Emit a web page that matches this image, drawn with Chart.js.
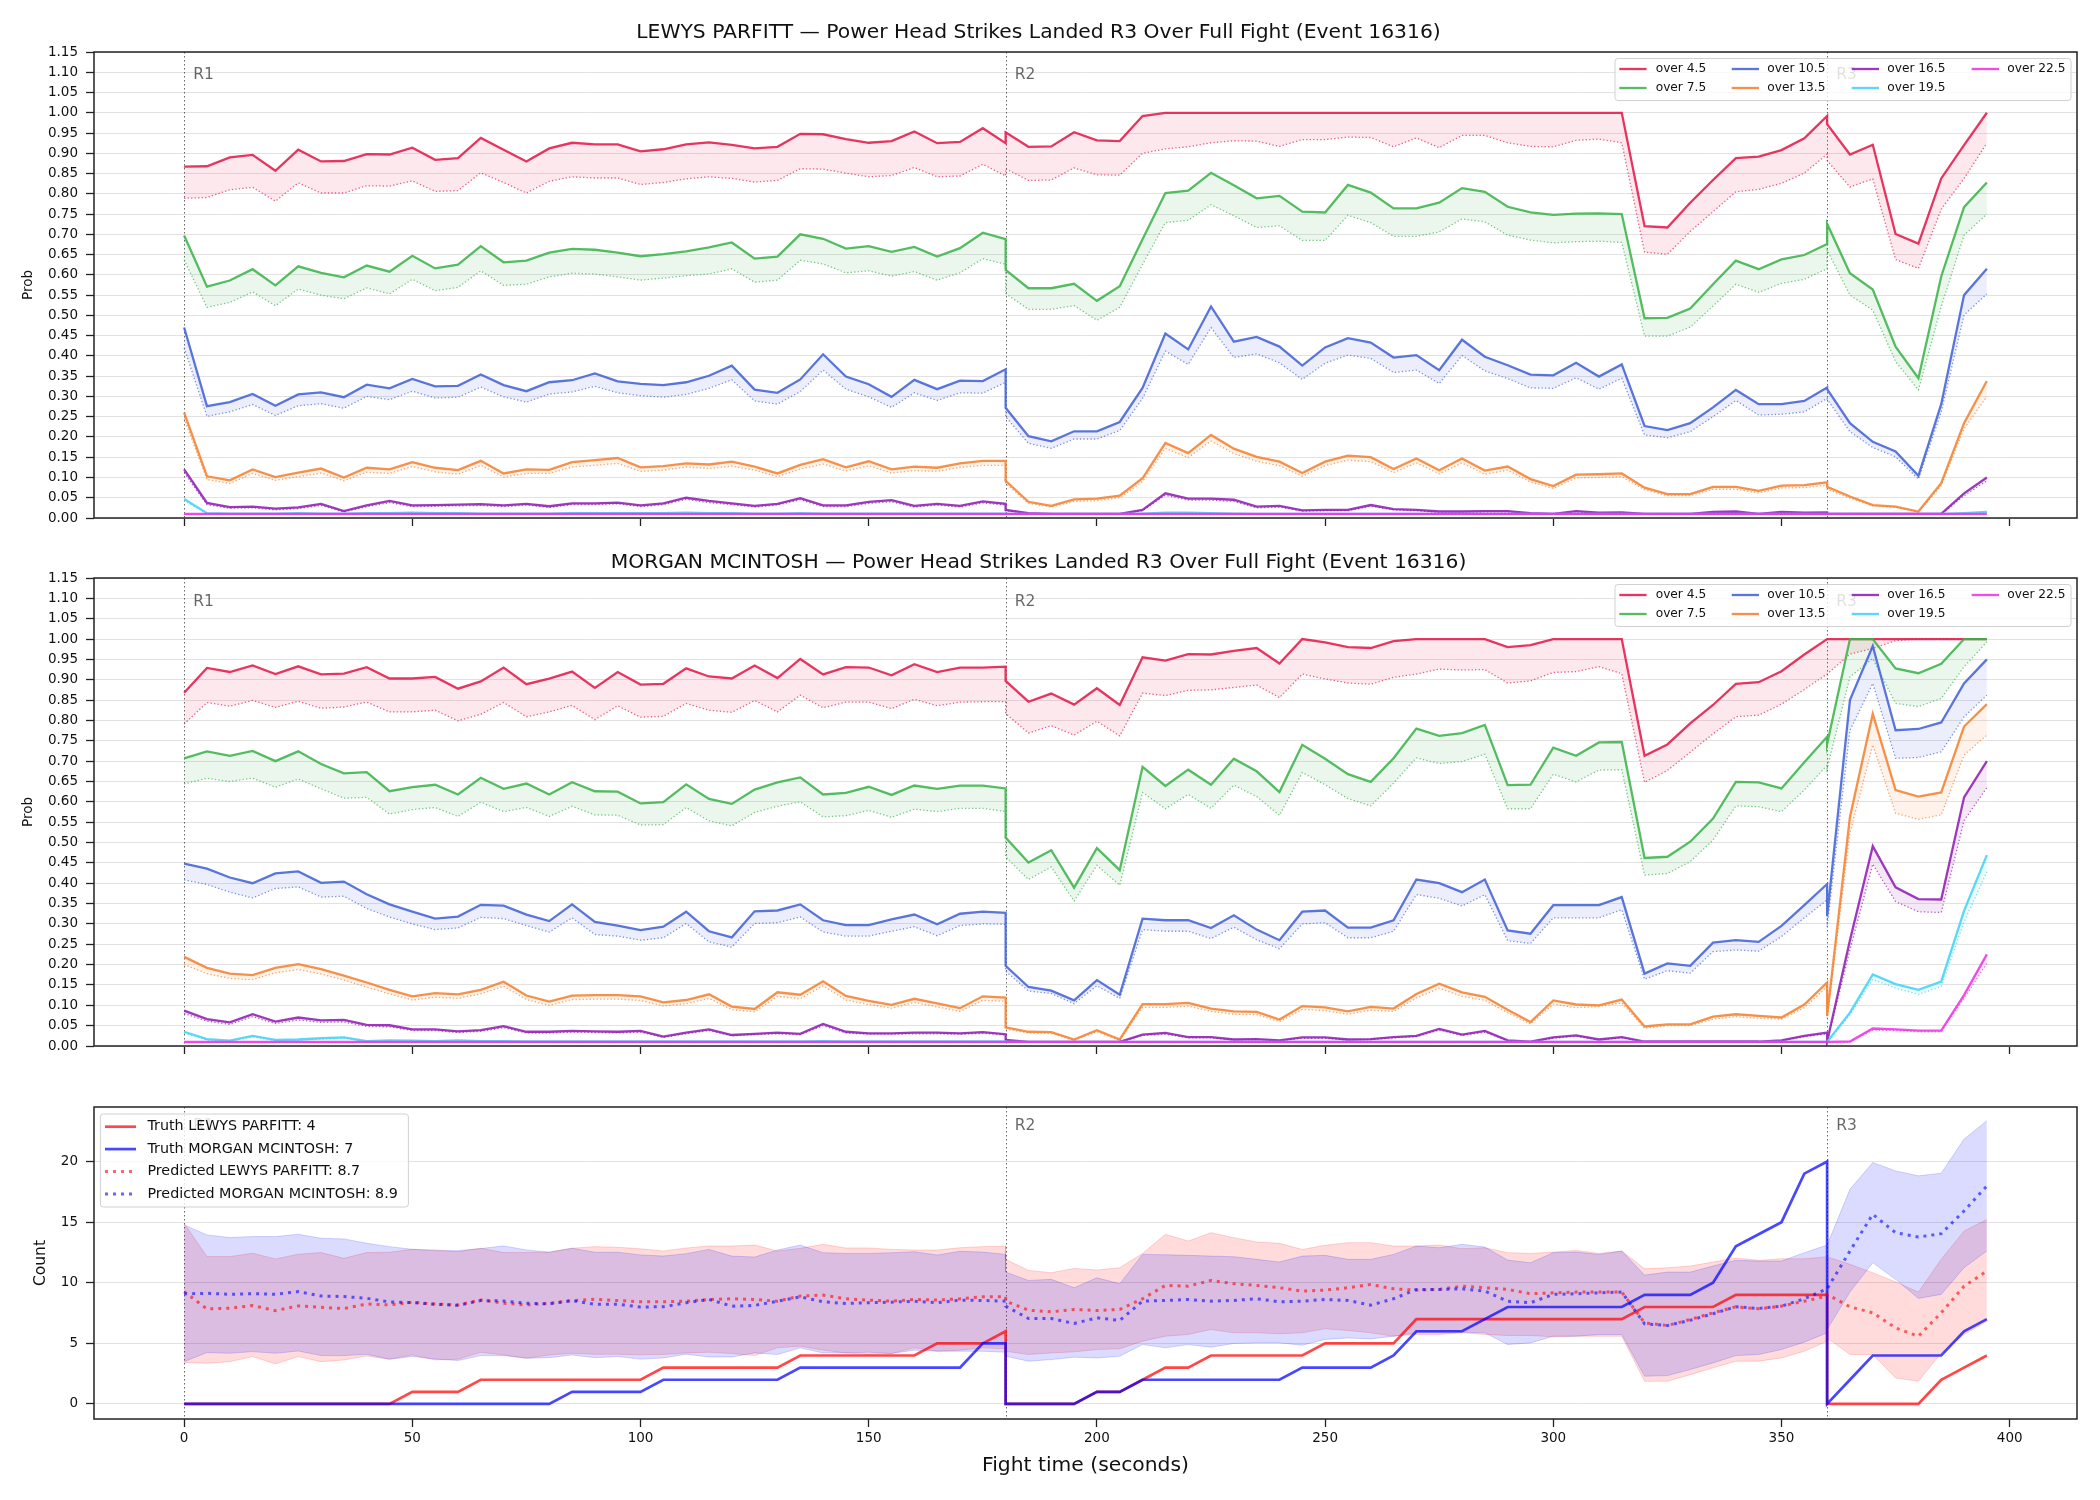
<!DOCTYPE html>
<html><head><meta charset="utf-8">
<script src="https://cdn.jsdelivr.net/npm/chart.js@4.4.1/dist/chart.umd.min.js"></script>
<style>
html,body{margin:0;padding:0;background:#fff;}
#wrap{position:relative;width:2100px;height:1500px;background:#fff;}
#wrap canvas{position:absolute;left:0;}
</style></head><body>
<div id="wrap">
<canvas id="c1" width="2100" height="540" style="top:0px;width:2100px;height:540px"></canvas>
<canvas id="c2" width="2100" height="530" style="top:540px;width:2100px;height:530px"></canvas>
<canvas id="c3" width="2100" height="430" style="top:1070px;width:2100px;height:430px"></canvas>
</div>
<script>
// ---------------- DATA ----------------
const T = [0,5,10,15,20,25,30,35,40,45,50,55,60,65,70,75,80,85,90,95,100,105,110,115,120,125,130,135,140,145,150,155,160,165,170,175,180,
 180,185,190,195,200,205,210,215,220,225,230,235,240,245,250,255,260,265,270,275,280,285,290,295,300,305,310,315,320,325,330,335,340,345,350,355,360,
 360,365,370,375,380,385,390,395];

const TITLE_TOP = 'LEWYS PARFITT — Power Head Strikes Landed R3 Over Full Fight (Event 16316)';
const TITLE_MID = 'MORGAN MCINTOSH — Power Head Strikes Landed R3 Over Full Fight (Event 16316)';
const SERIES_LABELS = ['over 4.5','over 7.5','over 10.5','over 13.5','over 16.5','over 19.5','over 22.5'];
const ROUND_T = [0, 180, 360];
const ROUND_LBL = ['R1', 'R2', 'R3'];
const BOTTOM_LEGEND = ['Truth LEWYS PARFITT: 4','Truth MORGAN MCINTOSH: 7','Predicted LEWYS PARFITT: 8.7','Predicted MORGAN MCINTOSH: 8.9'];

// LEWYS PARFITT probabilities (solid) and lower (dotted)
const L_o45 = [0.867,0.868,0.890,0.896,0.857,0.909,0.880,0.881,0.898,0.897,0.914,0.884,0.888,0.938,0.909,0.880,0.912,0.926,0.922,0.922,0.905,0.910,0.922,0.927,0.921,0.912,0.916,0.948,0.947,0.935,0.926,0.930,0.954,0.925,0.928,0.962,0.925,
 0.952,0.916,0.917,0.952,0.932,0.930,0.992,1.000,1.000,1.000,1.000,1.000,1.000,1.000,1.000,1.000,1.000,1.000,1.000,1.000,1.000,1.000,1.000,1.000,1.000,1.000,1.000,1.000,0.720,0.717,0.778,0.834,0.888,0.892,0.908,0.937,0.992,
 0.972,0.897,0.921,0.701,0.677,0.838,0.920,1.000];
const L_o45d = [0.789,0.791,0.810,0.816,0.782,0.827,0.802,0.802,0.820,0.819,0.832,0.806,0.808,0.852,0.828,0.802,0.831,0.842,0.839,0.839,0.823,0.828,0.837,0.842,0.838,0.829,0.833,0.862,0.861,0.851,0.842,0.845,0.865,0.842,0.844,0.873,0.844,
 0.862,0.833,0.834,0.864,0.847,0.846,0.900,0.911,0.916,0.926,0.931,0.930,0.917,0.934,0.934,0.940,0.939,0.916,0.938,0.914,0.944,0.944,0.926,0.917,0.916,0.932,0.935,0.926,0.656,0.651,0.707,0.756,0.805,0.811,0.826,0.851,0.898,
 0.882,0.817,0.837,0.638,0.616,0.762,0.838,0.925];
const L_o75 = [0.697,0.571,0.586,0.614,0.574,0.621,0.605,0.594,0.623,0.608,0.647,0.616,0.625,0.671,0.631,0.635,0.655,0.664,0.662,0.655,0.646,0.651,0.658,0.668,0.680,0.640,0.645,0.700,0.689,0.665,0.671,0.657,0.669,0.645,0.666,0.704,0.688,
 0.612,0.567,0.567,0.578,0.536,0.572,0.688,0.802,0.808,0.852,0.821,0.789,0.795,0.756,0.754,0.822,0.803,0.764,0.764,0.778,0.814,0.805,0.768,0.754,0.748,0.751,0.752,0.750,0.493,0.494,0.517,0.577,0.635,0.614,0.638,0.649,0.676,
 0.726,0.604,0.564,0.423,0.345,0.596,0.767,0.828];
const L_o75d = [0.637,0.520,0.532,0.558,0.524,0.565,0.550,0.541,0.568,0.553,0.589,0.561,0.569,0.610,0.574,0.577,0.595,0.604,0.602,0.595,0.587,0.592,0.598,0.602,0.615,0.582,0.587,0.636,0.627,0.605,0.610,0.597,0.608,0.587,0.605,0.640,0.626,
 0.554,0.515,0.515,0.524,0.488,0.520,0.626,0.729,0.735,0.773,0.746,0.717,0.721,0.685,0.685,0.747,0.729,0.695,0.695,0.706,0.738,0.731,0.698,0.686,0.679,0.682,0.683,0.680,0.449,0.449,0.471,0.523,0.577,0.557,0.579,0.589,0.615,
 0.661,0.550,0.513,0.386,0.316,0.522,0.698,0.750];
const L_o105 = [0.470,0.276,0.286,0.306,0.277,0.305,0.310,0.298,0.329,0.320,0.343,0.325,0.326,0.354,0.328,0.313,0.335,0.340,0.357,0.337,0.331,0.328,0.335,0.351,0.376,0.317,0.309,0.342,0.404,0.349,0.330,0.299,0.341,0.318,0.339,0.338,0.367,
 0.272,0.202,0.189,0.214,0.214,0.237,0.321,0.455,0.416,0.522,0.435,0.447,0.423,0.376,0.421,0.444,0.433,0.396,0.402,0.365,0.440,0.398,0.377,0.354,0.352,0.383,0.349,0.379,0.227,0.217,0.234,0.273,0.316,0.281,0.281,0.289,0.322,
 0.318,0.234,0.188,0.164,0.104,0.281,0.550,0.615];
const L_o105d = [0.420,0.251,0.262,0.280,0.253,0.277,0.282,0.271,0.300,0.292,0.313,0.296,0.298,0.323,0.299,0.286,0.306,0.311,0.325,0.309,0.302,0.298,0.305,0.320,0.341,0.289,0.281,0.312,0.365,0.318,0.299,0.273,0.309,0.290,0.309,0.308,0.335,
 0.250,0.184,0.172,0.195,0.195,0.216,0.295,0.412,0.379,0.470,0.396,0.405,0.383,0.342,0.382,0.402,0.394,0.359,0.365,0.332,0.401,0.363,0.344,0.321,0.320,0.346,0.318,0.345,0.205,0.198,0.213,0.250,0.290,0.254,0.256,0.262,0.295,
 0.293,0.213,0.174,0.151,0.096,0.262,0.501,0.553];
const L_o135 = [0.260,0.103,0.093,0.120,0.101,0.112,0.122,0.100,0.124,0.120,0.138,0.124,0.118,0.141,0.110,0.120,0.119,0.138,0.143,0.148,0.125,0.128,0.135,0.132,0.139,0.127,0.110,0.131,0.145,0.125,0.140,0.120,0.127,0.124,0.135,0.141,0.141,
 0.092,0.040,0.030,0.046,0.048,0.055,0.098,0.185,0.160,0.205,0.171,0.151,0.139,0.111,0.139,0.154,0.150,0.121,0.147,0.118,0.147,0.117,0.127,0.096,0.079,0.107,0.108,0.110,0.075,0.059,0.059,0.077,0.077,0.067,0.080,0.081,0.088,
 0.077,0.053,0.032,0.028,0.016,0.086,0.234,0.338];
const L_o135d = [0.245,0.095,0.085,0.110,0.093,0.102,0.111,0.092,0.113,0.110,0.127,0.114,0.108,0.130,0.101,0.110,0.110,0.126,0.130,0.135,0.115,0.118,0.126,0.122,0.128,0.118,0.102,0.121,0.133,0.116,0.129,0.111,0.117,0.115,0.125,0.130,0.130,
 0.086,0.036,0.027,0.041,0.043,0.050,0.090,0.172,0.149,0.190,0.159,0.140,0.129,0.103,0.129,0.143,0.139,0.112,0.136,0.109,0.136,0.108,0.118,0.089,0.073,0.099,0.100,0.102,0.070,0.055,0.055,0.071,0.071,0.062,0.074,0.075,0.081,
 0.071,0.049,0.030,0.026,0.015,0.080,0.220,0.300];
const L_o165 = [0.120,0.037,0.027,0.028,0.023,0.026,0.035,0.017,0.031,0.042,0.031,0.032,0.033,0.034,0.031,0.035,0.029,0.036,0.036,0.038,0.031,0.036,0.050,0.042,0.036,0.030,0.035,0.049,0.031,0.031,0.040,0.044,0.030,0.035,0.030,0.041,0.035,
 0.020,0.012,0.010,0.010,0.010,0.010,0.020,0.061,0.048,0.048,0.045,0.028,0.030,0.019,0.020,0.020,0.032,0.022,0.020,0.016,0.016,0.017,0.017,0.012,0.010,0.017,0.013,0.014,0.010,0.010,0.010,0.015,0.016,0.010,0.015,0.013,0.014,
 0.010,0.010,0.010,0.010,0.010,0.010,0.061,0.100];
const L_o165d = [0.112,0.033,0.024,0.025,0.020,0.023,0.031,0.015,0.028,0.038,0.028,0.029,0.030,0.031,0.028,0.032,0.026,0.033,0.033,0.035,0.028,0.033,0.046,0.038,0.033,0.027,0.032,0.045,0.028,0.028,0.036,0.040,0.027,0.032,0.027,0.037,0.032,
 0.018,0.011,0.009,0.009,0.009,0.009,0.018,0.056,0.044,0.044,0.041,0.025,0.027,0.017,0.018,0.018,0.029,0.020,0.018,0.014,0.014,0.015,0.015,0.011,0.009,0.015,0.012,0.013,0.009,0.009,0.009,0.013,0.014,0.009,0.013,0.012,0.013,
 0.009,0.009,0.009,0.009,0.009,0.009,0.055,0.092];
const L_o195 = [0.047,0.012,0.011,0.011,0.011,0.012,0.011,0.011,0.012,0.012,0.013,0.012,0.012,0.011,0.011,0.011,0.011,0.012,0.012,0.012,0.012,0.012,0.013,0.012,0.012,0.011,0.011,0.012,0.011,0.011,0.011,0.011,0.011,0.011,0.011,0.011,0.011,
 0.010,0.010,0.010,0.010,0.010,0.010,0.011,0.013,0.013,0.012,0.011,0.010,0.010,0.010,0.010,0.010,0.010,0.010,0.010,0.010,0.010,0.010,0.010,0.010,0.010,0.010,0.010,0.010,0.010,0.010,0.010,0.010,0.010,0.010,0.010,0.010,0.010,
 0.010,0.010,0.010,0.010,0.010,0.010,0.012,0.015];
const L_o195d = [0.043,0.011,0.010,0.010,0.010,0.011,0.010,0.010,0.011,0.011,0.012,0.011,0.011,0.010,0.010,0.010,0.010,0.011,0.011,0.011,0.011,0.011,0.012,0.011,0.011,0.010,0.010,0.011,0.010,0.010,0.010,0.010,0.010,0.010,0.010,0.010,0.010,
 0.009,0.009,0.009,0.009,0.009,0.009,0.010,0.012,0.012,0.011,0.010,0.009,0.009,0.009,0.009,0.009,0.009,0.009,0.009,0.009,0.009,0.009,0.009,0.009,0.009,0.009,0.009,0.009,0.009,0.009,0.009,0.009,0.009,0.009,0.009,0.009,0.009,
 0.009,0.009,0.009,0.009,0.009,0.009,0.011,0.014];
const L_o225 = [0.010,0.010,0.010,0.010,0.010,0.010,0.010,0.010,0.010,0.010,0.010,0.010,0.010,0.010,0.010,0.010,0.010,0.010,0.010,0.010,0.010,0.010,0.010,0.010,0.010,0.010,0.010,0.010,0.010,0.010,0.010,0.010,0.010,0.010,0.010,0.010,0.010,
 0.010,0.010,0.010,0.010,0.010,0.010,0.010,0.010,0.010,0.010,0.010,0.010,0.010,0.010,0.010,0.010,0.010,0.010,0.010,0.010,0.010,0.010,0.010,0.010,0.010,0.010,0.010,0.010,0.010,0.010,0.010,0.010,0.010,0.010,0.010,0.010,0.010,
 0.010,0.010,0.010,0.010,0.010,0.010,0.010,0.010];
const L_o225d = [0.009,0.009,0.009,0.009,0.009,0.009,0.009,0.009,0.009,0.009,0.009,0.009,0.009,0.009,0.009,0.009,0.009,0.009,0.009,0.009,0.009,0.009,0.009,0.009,0.009,0.009,0.009,0.009,0.009,0.009,0.009,0.009,0.009,0.009,0.009,0.009,0.009,
 0.009,0.009,0.009,0.009,0.009,0.009,0.009,0.009,0.009,0.009,0.009,0.009,0.009,0.009,0.009,0.009,0.009,0.009,0.009,0.009,0.009,0.009,0.009,0.009,0.009,0.009,0.009,0.009,0.009,0.009,0.009,0.009,0.009,0.009,0.009,0.009,0.009,
 0.009,0.009,0.009,0.009,0.009,0.009,0.009,0.009];

// MORGAN MCINTOSH probabilities
const M_o45 = [0.868,0.929,0.919,0.935,0.914,0.933,0.913,0.915,0.931,0.903,0.903,0.907,0.878,0.896,0.930,0.889,0.903,0.920,0.880,0.919,0.888,0.890,0.928,0.908,0.903,0.935,0.904,0.951,0.913,0.931,0.930,0.911,0.938,0.919,0.930,0.930,0.932,
 0.897,0.846,0.866,0.839,0.879,0.838,0.955,0.947,0.963,0.962,0.971,0.978,0.940,1.000,0.992,0.980,0.978,0.995,1.000,1.000,1.000,1.000,0.980,0.985,1.000,1.000,1.000,1.000,0.713,0.741,0.793,0.838,0.890,0.894,0.921,0.962,1.000,
 1.000,1.000,1.000,1.000,1.000,1.000,1.000,1.000];
const M_o45d = [0.791,0.844,0.835,0.849,0.832,0.847,0.830,0.833,0.845,0.821,0.821,0.825,0.799,0.815,0.844,0.809,0.821,0.837,0.802,0.836,0.808,0.810,0.842,0.825,0.820,0.849,0.821,0.862,0.831,0.845,0.845,0.829,0.852,0.836,0.845,0.846,0.846,
 0.817,0.769,0.787,0.764,0.798,0.762,0.867,0.861,0.874,0.875,0.881,0.887,0.856,0.914,0.902,0.892,0.889,0.906,0.914,0.926,0.924,0.925,0.892,0.897,0.918,0.920,0.932,0.915,0.648,0.677,0.722,0.767,0.809,0.813,0.840,0.876,0.914,
 0.914,0.963,0.977,0.996,1.000,1.000,1.000,1.000];
const M_o75 = [0.707,0.724,0.713,0.725,0.700,0.724,0.693,0.670,0.673,0.626,0.636,0.642,0.618,0.659,0.632,0.645,0.618,0.648,0.626,0.625,0.596,0.599,0.643,0.607,0.595,0.630,0.648,0.660,0.618,0.622,0.637,0.617,0.640,0.632,0.640,0.640,0.633,
 0.512,0.451,0.481,0.389,0.486,0.432,0.686,0.639,0.679,0.642,0.706,0.675,0.624,0.740,0.706,0.668,0.649,0.707,0.780,0.762,0.769,0.789,0.641,0.642,0.733,0.713,0.746,0.747,0.462,0.465,0.502,0.559,0.649,0.648,0.633,0.697,0.760,
 0.742,1.000,1.000,0.928,0.916,0.939,1.000,1.000];
const M_o75d = [0.644,0.658,0.650,0.658,0.636,0.656,0.632,0.609,0.611,0.570,0.581,0.586,0.564,0.599,0.576,0.586,0.564,0.589,0.568,0.567,0.543,0.544,0.586,0.553,0.541,0.574,0.589,0.600,0.563,0.566,0.579,0.562,0.582,0.576,0.584,0.584,0.576,
 0.465,0.409,0.440,0.356,0.444,0.395,0.623,0.583,0.618,0.584,0.641,0.613,0.567,0.672,0.642,0.608,0.590,0.646,0.708,0.694,0.699,0.717,0.583,0.583,0.668,0.649,0.678,0.679,0.420,0.424,0.453,0.506,0.590,0.588,0.576,0.629,0.690,
 0.682,0.907,0.952,0.842,0.834,0.854,0.932,0.993];
const M_o105 = [0.448,0.436,0.414,0.400,0.424,0.429,0.401,0.404,0.373,0.348,0.330,0.313,0.318,0.347,0.345,0.323,0.307,0.348,0.305,0.296,0.285,0.293,0.330,0.282,0.267,0.331,0.333,0.348,0.309,0.297,0.297,0.311,0.323,0.299,0.325,0.330,0.327,
 0.197,0.145,0.136,0.112,0.162,0.126,0.313,0.309,0.309,0.290,0.321,0.286,0.260,0.330,0.333,0.291,0.291,0.309,0.409,0.400,0.378,0.409,0.284,0.276,0.346,0.346,0.346,0.366,0.178,0.203,0.197,0.254,0.260,0.256,0.295,0.346,0.398,
 0.319,0.850,0.983,0.776,0.779,0.795,0.891,0.950];
const M_o105d = [0.408,0.397,0.378,0.364,0.387,0.391,0.366,0.368,0.338,0.317,0.300,0.286,0.290,0.316,0.313,0.296,0.280,0.315,0.274,0.270,0.260,0.266,0.301,0.256,0.243,0.301,0.303,0.317,0.280,0.270,0.270,0.282,0.293,0.271,0.296,0.300,0.299,
 0.184,0.135,0.129,0.104,0.148,0.117,0.286,0.282,0.282,0.264,0.292,0.261,0.239,0.300,0.303,0.266,0.266,0.282,0.372,0.363,0.344,0.372,0.259,0.252,0.315,0.315,0.315,0.335,0.164,0.185,0.179,0.232,0.236,0.233,0.269,0.315,0.359,
 0.293,0.776,0.891,0.707,0.709,0.723,0.809,0.862];
const M_o135 = [0.219,0.192,0.178,0.174,0.192,0.201,0.189,0.173,0.156,0.138,0.122,0.130,0.127,0.138,0.158,0.124,0.109,0.124,0.125,0.125,0.122,0.107,0.113,0.127,0.097,0.091,0.132,0.126,0.159,0.123,0.111,0.101,0.116,0.105,0.093,0.122,0.119,
 0.046,0.035,0.034,0.016,0.039,0.016,0.103,0.103,0.106,0.092,0.085,0.084,0.065,0.098,0.095,0.085,0.096,0.092,0.128,0.153,0.132,0.121,0.089,0.059,0.112,0.102,0.100,0.114,0.048,0.053,0.053,0.072,0.078,0.074,0.070,0.102,0.156,
 0.074,0.563,0.816,0.629,0.613,0.623,0.785,0.840];
const M_o135d = [0.200,0.178,0.166,0.163,0.180,0.188,0.177,0.162,0.145,0.128,0.113,0.120,0.117,0.128,0.147,0.114,0.100,0.114,0.115,0.115,0.112,0.098,0.104,0.117,0.089,0.084,0.122,0.116,0.148,0.113,0.102,0.093,0.107,0.096,0.085,0.112,0.110,
 0.042,0.032,0.031,0.014,0.035,0.014,0.095,0.095,0.098,0.085,0.078,0.077,0.060,0.090,0.087,0.078,0.088,0.085,0.118,0.142,0.122,0.112,0.082,0.054,0.103,0.094,0.097,0.106,0.044,0.050,0.050,0.066,0.072,0.068,0.066,0.094,0.146,
 0.068,0.523,0.740,0.572,0.557,0.568,0.715,0.764];
const M_o165 = [0.087,0.066,0.058,0.078,0.060,0.070,0.063,0.064,0.052,0.051,0.041,0.041,0.036,0.039,0.049,0.035,0.035,0.037,0.036,0.035,0.037,0.023,0.033,0.041,0.027,0.030,0.033,0.030,0.054,0.035,0.031,0.031,0.033,0.033,0.031,0.034,0.029,
 0.015,0.010,0.010,0.010,0.010,0.010,0.028,0.032,0.022,0.022,0.016,0.017,0.014,0.021,0.021,0.016,0.017,0.022,0.025,0.042,0.028,0.037,0.014,0.011,0.021,0.026,0.016,0.022,0.011,0.011,0.011,0.011,0.011,0.011,0.014,0.025,0.033,
 0.011,0.260,0.491,0.390,0.361,0.360,0.611,0.700];
const M_o165d = [0.080,0.061,0.053,0.072,0.055,0.064,0.058,0.059,0.048,0.047,0.038,0.038,0.033,0.036,0.045,0.032,0.032,0.034,0.033,0.032,0.034,0.021,0.030,0.038,0.025,0.028,0.030,0.028,0.050,0.032,0.029,0.029,0.030,0.030,0.029,0.031,0.027,
 0.014,0.009,0.009,0.009,0.009,0.009,0.026,0.029,0.020,0.020,0.015,0.016,0.013,0.019,0.019,0.015,0.016,0.020,0.023,0.039,0.026,0.034,0.013,0.010,0.019,0.024,0.015,0.020,0.010,0.010,0.010,0.010,0.010,0.010,0.013,0.023,0.030,
 0.010,0.236,0.447,0.355,0.330,0.328,0.554,0.635];
const M_o195 = [0.035,0.017,0.013,0.025,0.015,0.016,0.019,0.021,0.012,0.014,0.013,0.012,0.014,0.012,0.012,0.011,0.011,0.011,0.011,0.011,0.011,0.011,0.011,0.011,0.011,0.011,0.011,0.011,0.012,0.011,0.011,0.011,0.011,0.011,0.011,0.011,0.011,
 0.010,0.010,0.010,0.010,0.010,0.010,0.010,0.010,0.010,0.010,0.010,0.010,0.010,0.010,0.010,0.010,0.010,0.010,0.010,0.010,0.010,0.010,0.010,0.010,0.010,0.010,0.010,0.010,0.010,0.010,0.010,0.010,0.010,0.010,0.010,0.010,0.010,
 0.010,0.082,0.176,0.152,0.138,0.158,0.332,0.469];
const M_o195d = [0.031,0.015,0.012,0.022,0.013,0.014,0.017,0.019,0.011,0.012,0.012,0.011,0.012,0.011,0.011,0.010,0.010,0.010,0.010,0.010,0.010,0.010,0.010,0.010,0.010,0.010,0.010,0.010,0.010,0.010,0.010,0.010,0.010,0.010,0.010,0.010,0.010,
 0.009,0.009,0.009,0.009,0.009,0.009,0.009,0.009,0.009,0.009,0.009,0.009,0.009,0.009,0.009,0.009,0.009,0.009,0.009,0.009,0.009,0.009,0.009,0.009,0.009,0.009,0.009,0.009,0.009,0.009,0.009,0.009,0.009,0.009,0.009,0.009,0.009,
 0.009,0.076,0.164,0.142,0.127,0.146,0.305,0.428];
const M_o225 = [0.010,0.010,0.010,0.010,0.010,0.010,0.010,0.010,0.010,0.010,0.010,0.010,0.010,0.010,0.010,0.010,0.010,0.010,0.010,0.010,0.010,0.010,0.010,0.010,0.010,0.010,0.010,0.010,0.010,0.010,0.010,0.010,0.010,0.010,0.010,0.010,0.010,
 0.010,0.010,0.010,0.010,0.010,0.010,0.010,0.010,0.010,0.010,0.010,0.010,0.010,0.010,0.010,0.010,0.010,0.010,0.010,0.010,0.010,0.010,0.010,0.010,0.010,0.010,0.010,0.010,0.010,0.010,0.010,0.010,0.010,0.010,0.010,0.010,0.010,
 0.010,0.011,0.043,0.041,0.038,0.038,0.125,0.225];
const M_o225d = [0.009,0.009,0.009,0.009,0.009,0.009,0.009,0.009,0.009,0.009,0.009,0.009,0.009,0.009,0.009,0.009,0.009,0.009,0.009,0.009,0.009,0.009,0.009,0.009,0.009,0.009,0.009,0.009,0.009,0.009,0.009,0.009,0.009,0.009,0.009,0.009,0.009,
 0.009,0.009,0.009,0.009,0.009,0.009,0.009,0.009,0.009,0.009,0.009,0.009,0.009,0.009,0.009,0.009,0.009,0.009,0.009,0.009,0.009,0.009,0.009,0.009,0.009,0.009,0.009,0.009,0.009,0.009,0.009,0.009,0.009,0.009,0.009,0.009,0.009,
 0.009,0.010,0.039,0.038,0.035,0.035,0.117,0.203];

// Counts panel
const TRUTH_L = [0,0,0,0,0,0,0,0,0,0,1,1,1,2,2,2,2,2,2,2,2,3,3,3,3,3,3,4,4,4,4,4,4,5,5,5,6,
 0,0,0,0,1,1,2,3,3,4,4,4,4,4,5,5,5,5,7,7,7,7,7,7,7,7,7,7,8,8,8,8,9,9,9,9,9,
 0,0,0,0,0,2,3,4];
const TRUTH_M = [0,0,0,0,0,0,0,0,0,0,0,0,0,0,0,0,0,1,1,1,1,2,2,2,2,2,2,3,3,3,3,3,3,3,3,5,5,
 0,0,0,0,1,1,2,2,2,2,2,2,2,3,3,3,3,4,6,6,6,7,8,8,8,8,8,8,9,9,9,10,13,14,15,19,20,
 0,2,4,4,4,4,6,7];
const PRED_L = [9.27,7.84,7.90,8.12,7.70,8.09,7.98,7.87,8.25,8.17,8.39,8.25,8.17,8.58,8.31,8.17,8.31,8.53,8.64,8.53,8.43,8.43,8.48,8.62,8.68,8.62,8.48,8.90,8.98,8.68,8.57,8.48,8.62,8.57,8.68,8.84,8.84,
 8.48,7.74,7.60,7.80,7.71,7.80,8.68,9.78,9.72,10.19,9.92,9.78,9.59,9.31,9.39,9.59,9.86,9.50,9.39,9.45,9.72,9.59,9.45,9.09,9.17,9.23,9.23,9.23,6.69,6.47,6.97,7.52,8.02,7.85,8.07,8.48,8.90,
 9.04,8.02,7.52,6.28,5.59,7.52,9.72,10.96];
const PRED_M = [9.08,9.13,9.05,9.10,9.05,9.27,8.91,8.86,8.72,8.42,8.36,8.23,8.14,8.53,8.50,8.31,8.25,8.53,8.23,8.23,8.00,8.02,8.35,8.62,8.07,8.13,8.48,8.84,8.43,8.29,8.35,8.40,8.48,8.35,8.57,8.54,8.48,
 8.07,7.05,7.05,6.64,7.11,6.89,8.48,8.54,8.62,8.48,8.54,8.68,8.43,8.48,8.62,8.54,8.15,8.68,9.45,9.45,9.50,9.31,8.48,8.35,9.04,9.09,9.17,9.23,6.61,6.47,6.91,7.44,8.02,7.88,8.07,8.68,9.50,
 9.50,12.62,15.65,14.13,13.77,14.05,15.92,17.99];
const RED_HI = [14.90,12.16,12.16,12.43,11.97,12.35,12.49,12.02,12.49,12.52,12.76,12.71,12.57,12.85,12.49,12.49,12.54,12.85,12.98,12.93,12.80,12.62,12.87,13.03,13.03,13.11,12.62,12.84,13.17,12.87,12.87,12.75,12.70,12.70,12.89,12.98,13.03,
 11.93,11.02,10.83,11.18,11.05,11.24,12.42,14.00,13.44,14.13,13.72,13.36,13.25,12.75,13.09,13.31,13.31,13.03,13.03,13.11,12.81,12.89,12.48,12.42,12.53,12.67,12.42,12.62,11.16,11.24,11.38,11.71,12.04,11.85,11.98,11.98,12.15,
 12.15,11.52,10.83,10.06,9.23,11.93,14.27,15.23];
const RED_LO = [3.41,3.36,3.49,3.91,3.30,3.91,3.49,3.63,3.96,3.69,4.04,3.63,3.69,4.26,4.04,3.77,4.04,4.18,4.10,4.10,4.06,4.08,4.21,4.27,4.16,3.99,4.63,4.77,4.44,4.21,4.08,4.16,4.63,4.35,4.44,4.63,4.55,
 4.35,4.08,4.21,4.30,4.49,4.55,5.18,5.59,5.73,6.14,5.87,5.87,5.79,5.87,6.20,6.06,5.87,5.59,5.73,5.73,5.87,5.73,5.65,5.65,5.54,5.59,5.59,5.59,1.87,1.87,2.42,2.98,3.53,3.53,3.80,4.35,5.18,
 5.45,4.08,4.08,2.15,1.87,4.21,5.73,6.83];
const BLUE_HI = [14.77,13.95,13.73,13.81,13.81,14.00,13.67,13.62,13.26,12.98,12.76,12.65,12.65,12.82,13.04,12.71,12.52,12.85,12.52,12.52,12.30,12.20,12.40,12.75,12.20,12.12,12.70,13.11,12.48,12.42,12.42,12.48,12.56,12.29,12.59,12.53,12.34,
 10.88,10.19,10.28,9.59,10.41,9.92,12.34,12.31,12.26,12.20,12.15,11.93,11.71,12.20,12.26,11.93,11.93,12.34,13.03,12.89,13.17,12.95,11.87,11.65,12.48,12.53,12.34,12.62,10.63,10.88,10.88,11.38,11.85,11.79,11.79,12.48,13.11,
 13.11,17.71,19.92,19.23,18.82,19.04,21.85,23.36];
const BLUE_LO = [3.49,4.24,4.18,4.32,4.18,4.37,3.99,3.99,4.10,3.69,3.91,3.71,3.58,3.99,3.99,3.77,3.82,4.04,3.82,3.91,3.70,3.80,4.10,3.88,3.88,4.21,4.08,4.63,4.21,4.21,4.27,4.16,4.44,4.35,4.35,4.35,4.27,
 3.94,3.53,3.66,3.86,3.80,3.94,4.90,4.63,4.90,4.68,4.99,5.04,5.04,4.85,5.32,5.45,5.37,5.59,5.87,5.87,5.92,5.87,4.90,5.04,5.59,5.59,5.73,5.73,2.29,2.34,2.84,3.39,3.99,4.08,4.49,5.10,5.87,
 6.14,9.23,11.65,10.28,8.71,9.04,11.24,12.62];

// ---------------- STYLE ----------------
const FONT = 'DejaVu Sans';
Chart.defaults.font.family = FONT;
Chart.defaults.color = '#111';
const SERIES_COLORS = [[230,25,75],[60,180,75],[67,99,216],[245,130,49],[145,30,180],[66,212,244],[240,50,230]];
const rgba = (c, a) => `rgba(${c[0]},${c[1]},${c[2]},${a})`;
const pts = ys => T.map((t, i) => ({x: t, y: ys[i]}));

function legendBox(ctx, x, y, w, h) {
  ctx.save(); ctx.setLineDash([]);
  ctx.beginPath(); ctx.roundRect(x, y, w, h, 3);
  ctx.fillStyle = 'rgba(255,255,255,0.8)'; ctx.fill();
  ctx.strokeStyle = 'rgba(204,204,204,0.9)'; ctx.lineWidth = 1; ctx.stroke();
  ctx.restore();
}

function topLegend(ctx, a) {
  const x0 = a.right - 462, y0 = a.top + 6.5;
  legendBox(ctx, x0, y0, 456, 42);
  const sx = [4.3, 116.7, 236.7, 356.7], tx = [40.7, 152.3, 272.3, 392.3], ry = [10.5, 29.5];
  ctx.font = `12.2px "${FONT}"`; ctx.textBaseline = 'middle'; ctx.textAlign = 'left'; ctx.fillStyle = '#111';
  SERIES_LABELS.forEach((lab, k) => {
    const c = Math.floor(k / 2), r = k % 2, yy = y0 + ry[r];
    ctx.setLineDash([]); ctx.strokeStyle = rgba(SERIES_COLORS[k], 0.88); ctx.lineWidth = 2.3;
    ctx.beginPath(); ctx.moveTo(x0 + sx[c], yy); ctx.lineTo(x0 + sx[c] + 27.3, yy); ctx.stroke();
    ctx.fillText(lab, x0 + tx[c], yy);
  });
}

function bottomLegend(ctx, a) {
  const x0 = a.left + 6.4, y0 = a.top + 7;
  legendBox(ctx, x0, y0, 308, 93);
  const styles = [
    {c: 'rgba(255,0,0,0.72)', dash: [], w: 2.7},
    {c: 'rgba(0,0,255,0.72)', dash: [], w: 2.7},
    {c: 'rgba(255,0,0,0.6)', dash: [3, 5], w: 3},
    {c: 'rgba(0,0,255,0.6)', dash: [3, 5], w: 3}];
  ctx.font = `14.3px "${FONT}"`; ctx.textBaseline = 'middle'; ctx.textAlign = 'left'; ctx.fillStyle = '#111';
  BOTTOM_LEGEND.forEach((lab, i) => {
    const yy = y0 + 12.7 + 22.4 * i, s = styles[i];
    ctx.setLineDash(s.dash); ctx.strokeStyle = s.c; ctx.lineWidth = s.w;
    ctx.beginPath(); ctx.moveTo(x0 + 4.6, yy); ctx.lineTo(x0 + 35.6, yy); ctx.stroke();
    ctx.setLineDash([]);
    ctx.fillText(lab, x0 + 47, yy);
  });
}

function decorPlugin(drawLegend) {
  return {
    id: 'decor',
    beforeDatasetsDraw(chart) {
      const {ctx, chartArea: a, scales: {x}} = chart;
      ctx.save();
      ctx.beginPath(); ctx.rect(a.left, a.top, a.right - a.left, a.bottom - a.top); ctx.clip();
      ctx.strokeStyle = 'rgba(40,40,40,0.7)'; ctx.lineWidth = 1; ctx.setLineDash([1.5, 2.5]);
      ROUND_T.forEach(t => {
        const px = Math.round(x.getPixelForValue(t)) + 0.5;
        ctx.beginPath(); ctx.moveTo(px, a.top); ctx.lineTo(px, a.bottom); ctx.stroke();
      });
      ctx.restore();
    },
    afterDatasetsDraw(chart) {
      const {ctx, chartArea: a, scales: {x}} = chart;
      ctx.save();
      ctx.font = `15.5px "${FONT}"`; ctx.fillStyle = 'rgba(0,0,0,0.6)';
      ctx.textBaseline = 'alphabetic'; ctx.textAlign = 'left';
      ROUND_T.forEach((t, i) => ctx.fillText(ROUND_LBL[i], x.getPixelForValue(t) + 9, a.top + 0.03 * (a.bottom - a.top) + 13.5));
      drawLegend(ctx, a);
      ctx.setLineDash([]); ctx.strokeStyle = '#222'; ctx.lineWidth = 1.5;
      ctx.strokeRect(a.left, a.top, a.right - a.left, a.bottom - a.top);
      ctx.restore();
    }
  };
}

function xAxis(showLabels, h) {
  const ax = {
    type: 'linear', min: -19.75, max: 414.75,
    afterFit(s) { s.height = h; },
    ticks: {display: showLabels, stepSize: 50, includeBounds: false, font: {size: 13.5}, color: '#111', padding: 3, maxRotation: 0, autoSkip: false},
    grid: {drawOnChartArea: false, drawTicks: true, tickLength: 8, tickColor: '#222', tickWidth: 1.3, color: '#222'},
    border: {display: false}
  };
  if (showLabels) ax.title = {display: true, text: 'Fight time (seconds)', font: {size: 20.3}, color: '#111', padding: {top: 0, bottom: 22}};
  return ax;
}

function probChart(id, title, solids, dotted, tPadTop, tPadBot, xh) {
  const datasets = [];
  solids.forEach((s, k) => {
    const c = SERIES_COLORS[k];
    datasets.push({label: SERIES_LABELS[k], data: pts(s), borderColor: rgba(c, 0.88), borderWidth: 2.3,
      pointRadius: 0, tension: 0, fill: false, order: 100 - 2 * k - 1});
    datasets.push({label: SERIES_LABELS[k] + ' lower', data: pts(dotted[k]), borderColor: rgba(c, 0.7), borderWidth: 1.3,
      borderDash: [1.3, 2.2], pointRadius: 0, tension: 0, fill: '-1', backgroundColor: rgba(c, 0.1), order: 100 - 2 * k});
  });
  return new Chart(document.getElementById(id), {
    type: 'line',
    data: {datasets},
    options: {
      responsive: false, animation: false, devicePixelRatio: 1, events: [],
      layout: {padding: {left: 0, right: 23, top: 0, bottom: 0}},
      plugins: {
        legend: {display: false}, tooltip: {enabled: false},
        title: {display: true, text: title, font: {size: 20.3, weight: 'normal'}, color: '#111', padding: {top: tPadTop, bottom: tPadBot}}
      },
      scales: {
        x: xAxis(false, xh),
        y: {
          min: 0, max: 1.15, afterFit(s) { s.width = 94; },
          ticks: {stepSize: 0.05, autoSkip: false, font: {size: 13.5}, color: '#111', padding: 8, callback: v => Number(v).toFixed(2)},
          grid: {color: '#e2e2e2', lineWidth: 1, tickLength: 8, tickColor: '#222', tickWidth: 1.3},
          border: {display: false},
          title: {display: true, text: 'Prob', font: {size: 13.5}, color: '#111', padding: {top: 20.4, bottom: 0}}
        }
      }
    },
    plugins: [decorPlugin(topLegend)]
  });
}

probChart('c1', TITLE_TOP,
  [L_o45, L_o75, L_o105, L_o135, L_o165, L_o195, L_o225],
  [L_o45d, L_o75d, L_o105d, L_o135d, L_o165d, L_o195d, L_o225d], 20.3, 7.34, 22);
probChart('c2', TITLE_MID,
  [M_o45, M_o75, M_o105, M_o135, M_o165, M_o195, M_o225],
  [M_o45d, M_o75d, M_o105d, M_o135d, M_o165d, M_o195d, M_o225d], 10.3, 3.34, 24);

new Chart(document.getElementById('c3'), {
  type: 'line',
  data: {datasets: [
    {label: 'LEWYS band low', data: pts(RED_LO), borderColor: 'rgba(255,0,0,0.16)', borderWidth: 1, pointRadius: 0, tension: 0, fill: false, order: 100},
    {label: 'LEWYS band high', data: pts(RED_HI), borderColor: 'rgba(255,0,0,0.16)', borderWidth: 1, pointRadius: 0, tension: 0, fill: '-1', backgroundColor: 'rgba(255,0,0,0.14)', order: 99},
    {label: 'MORGAN band low', data: pts(BLUE_LO), borderColor: 'rgba(0,0,255,0.16)', borderWidth: 1, pointRadius: 0, tension: 0, fill: false, order: 98},
    {label: 'MORGAN band high', data: pts(BLUE_HI), borderColor: 'rgba(0,0,255,0.16)', borderWidth: 1, pointRadius: 0, tension: 0, fill: '-1', backgroundColor: 'rgba(0,0,255,0.14)', order: 97},
    {label: BOTTOM_LEGEND[0], data: pts(TRUTH_L), borderColor: 'rgba(255,0,0,0.72)', borderWidth: 2.7, pointRadius: 0, tension: 0, fill: false, order: 96},
    {label: BOTTOM_LEGEND[1], data: pts(TRUTH_M), borderColor: 'rgba(0,0,255,0.72)', borderWidth: 2.7, pointRadius: 0, tension: 0, fill: false, order: 95},
    {label: BOTTOM_LEGEND[2], data: pts(PRED_L), borderColor: 'rgba(255,0,0,0.6)', borderWidth: 3, borderDash: [3, 5], pointRadius: 0, tension: 0, fill: false, order: 94},
    {label: BOTTOM_LEGEND[3], data: pts(PRED_M), borderColor: 'rgba(0,0,255,0.6)', borderWidth: 3, borderDash: [3, 5], pointRadius: 0, tension: 0, fill: false, order: 93}
  ]},
  options: {
    responsive: false, animation: false, devicePixelRatio: 1, events: [],
    layout: {padding: {left: 0, right: 23, top: 37, bottom: 0}},
    plugins: {legend: {display: false}, tooltip: {enabled: false}, title: {display: false}},
    scales: {
      x: xAxis(true, 81),
      y: {
        min: -1.24, max: 24.5, afterFit(s) { s.width = 94; },
        ticks: {stepSize: 5, includeBounds: false, font: {size: 13.5}, color: '#111', padding: 8},
        grid: {color: '#e2e2e2', lineWidth: 1, tickLength: 8, tickColor: '#222', tickWidth: 1.3},
        border: {display: false},
        title: {display: true, text: 'Count', font: {size: 15.5}, color: '#111', padding: {top: 31.7, bottom: 0}}
      }
    }
  },
  plugins: [decorPlugin(bottomLegend)]
});
</script>
</body></html>
